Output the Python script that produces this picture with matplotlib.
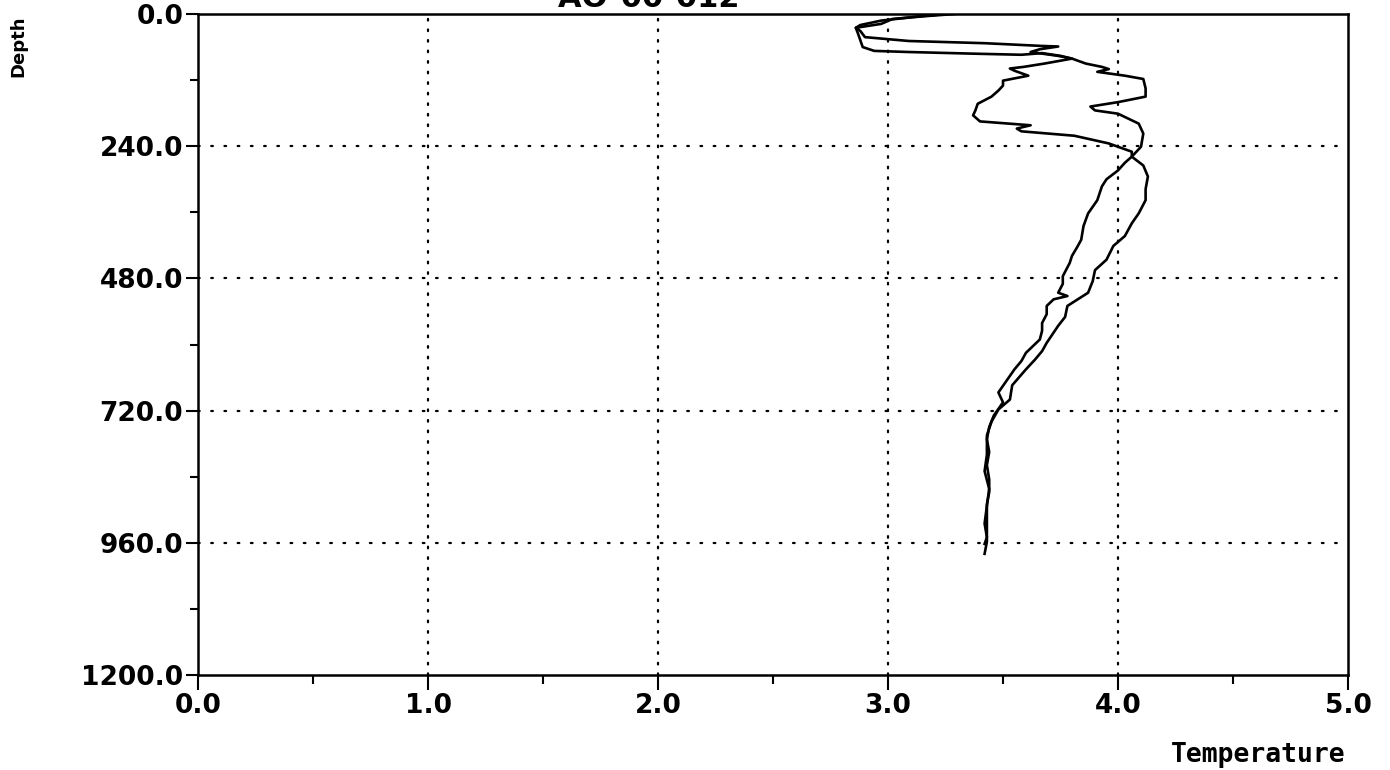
import matplotlib
matplotlib.use("Agg")
import matplotlib.pyplot as plt
from matplotlib.ticker import MultipleLocator, FixedLocator

# Temperature profile: first cast
depth_a = [0, 4, 9, 18, 25, 31, 42, 49, 53, 58, 59, 64, 69, 76, 81, 90, 96, 100, 105,
           112, 118, 135, 150, 160, 168, 175, 181, 199, 217, 241, 259, 270, 284, 300,
           313, 338, 350, 362, 385, 410, 425, 439, 452, 476, 490, 506, 512, 518, 530,
           545, 561, 575, 591, 615, 630, 645, 669, 687, 705, 729, 750, 772, 795, 819,
           845, 868, 890, 910, 935, 958, 980]
temp_a = [3.29, 3.16, 3.02, 2.97, 2.86, 2.88, 2.90, 3.09, 3.42, 3.67, 3.74, 3.66, 3.62,
          3.74, 3.80, 3.86, 3.93, 3.96, 3.91, 4.03, 4.11, 4.12, 4.12, 4.00, 3.88, 3.90,
          4.00, 4.09, 4.11, 4.10, 4.06, 4.03, 4.00, 3.95, 3.93, 3.91, 3.89, 3.87, 3.85,
          3.84, 3.82, 3.80, 3.79, 3.76, 3.76, 3.74, 3.78, 3.72, 3.69, 3.69, 3.67, 3.67,
          3.66, 3.60, 3.58, 3.55, 3.51, 3.48, 3.50, 3.46, 3.44, 3.43, 3.44, 3.43, 3.44,
          3.44, 3.43, 3.43, 3.43, 3.43, 3.42]

# Temperature profile: second cast
depth_b = [0, 5, 12, 20, 25, 36, 48, 60, 67, 69, 72, 74, 71, 76, 81, 90, 96, 99, 103,
           112, 121, 130, 139, 150, 163, 175, 184, 195, 202, 208, 213, 221, 235, 250,
           259, 275, 295, 318, 338, 362, 380, 403, 421, 446, 465, 485, 506, 530, 550,
           566, 597, 612, 627, 645, 674, 700, 718, 740, 765, 800, 830, 862, 893, 925,
           950, 962]
temp_b = [3.25, 3.12, 2.97, 2.88, 2.86, 2.87, 2.88, 2.89, 2.94, 3.09, 3.37, 3.58, 3.67,
          3.75, 3.80, 3.68, 3.59, 3.53, 3.55, 3.61, 3.50, 3.50, 3.48, 3.45, 3.39, 3.38,
          3.37, 3.40, 3.62, 3.56, 3.58, 3.81, 3.96, 4.06, 4.06, 4.11, 4.13, 4.12, 4.12,
          4.09, 4.06, 4.03, 3.98, 3.95, 3.90, 3.89, 3.87, 3.78, 3.77, 3.74, 3.69, 3.67,
          3.64, 3.60, 3.54, 3.53, 3.48, 3.45, 3.43, 3.43, 3.42, 3.44, 3.43, 3.42, 3.43,
          3.42]

x_ticks = [0.0, 1.0, 2.0, 3.0, 4.0, 5.0]
x_tick_labels = ["0.0", "1.0", "2.0", "3.0", "4.0", "5.0"]
y_ticks = [0, 240, 480, 720, 960, 1200]
y_tick_labels = ["0.0", "240.0", "480.0", "720.0", "960.0", "1200.0"]

W, H = 1390, 770
fig = plt.figure(figsize=(W / 100, H / 100), dpi=100)
left, right, top, bottom = 198, 1348, 14, 675
ax = fig.add_axes([left / W, 1 - bottom / H, (right - left) / W, (bottom - top) / H])

ax.plot(temp_a, depth_a, color="black", linewidth=1.9, zorder=3)
ax.plot(temp_b, depth_b, color="black", linewidth=1.9, zorder=3)

ax.set_xlim(0, 5)
ax.set_ylim(1200, 0)

ax.xaxis.set_major_locator(FixedLocator(x_ticks))
ax.set_xticklabels(x_tick_labels)
ax.xaxis.set_minor_locator(MultipleLocator(0.5))
ax.yaxis.set_major_locator(FixedLocator(y_ticks))
ax.set_yticklabels(y_tick_labels)
ax.yaxis.set_minor_locator(MultipleLocator(120))

for lab in ax.get_xticklabels() + ax.get_yticklabels():
    lab.set_fontfamily("DejaVu Sans")
    lab.set_fontweight("bold")
    lab.set_fontsize(19)

ax.tick_params(axis="x", which="major", direction="out", length=10.8, width=1.5, pad=2)
ax.tick_params(axis="x", which="minor", direction="out", length=6.5, width=1.5)
ax.tick_params(axis="y", which="major", direction="out", length=8.6, width=1.5, pad=2)
ax.tick_params(axis="y", which="minor", direction="out", length=5.8, width=1.5)

for s in ax.spines.values():
    s.set_linewidth(1.8)
    s.set_color("black")

# dotted grid at the interior major ticks
for xv in x_ticks[1:-1]:
    ax.axvline(xv, color="black", linewidth=1.6, linestyle=(0, (0.75, 4.0)),
               dash_capstyle="round", zorder=1)
for yv in y_ticks[1:-1]:
    ax.axhline(yv, color="black", linewidth=1.6, linestyle=(0, (0.75, 5.2)),
               dash_capstyle="round", zorder=1)

fig.text(18 / W, 1 - 46 / H, "Depth", rotation=90, ha="center", va="center",
         family="DejaVu Sans", weight="bold", fontsize=13)
fig.text(1345 / W, 1 - 762 / H, "Temperature", ha="right", va="baseline",
         family="DejaVu Sans Mono", weight="bold", fontsize=19)

# station header, clipped at the top edge of the page
fig.text(660 / W, 1 - 7 / H, "AO-00-012 -", ha="center", va="baseline",
         family="DejaVu Sans", weight="bold", fontsize=22)

fig.savefig("out.png", dpi=100, facecolor="white")
